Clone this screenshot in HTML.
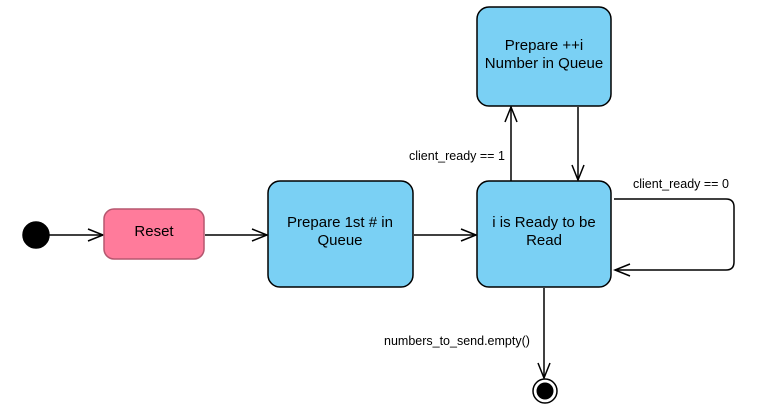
<!DOCTYPE html>
<html><head><style>body{margin:0;background:#fff}</style></head><body>
<svg width="759" height="413" xmlns="http://www.w3.org/2000/svg" font-family="Liberation Sans, Arial, sans-serif">
<g stroke="#000" stroke-width="1.5" fill="none">
<circle cx="36" cy="235" r="13" fill="#000"/>
<line x1="49" y1="235" x2="103" y2="235"/><polyline points="88,229 103,235 88,241"/>
<line x1="205" y1="235" x2="267" y2="235"/><polyline points="252,229 267,235 252,241"/>
<line x1="414" y1="235" x2="476" y2="235"/><polyline points="461,229 476,235 461,241"/>
<line x1="511" y1="181" x2="511" y2="107"/><polyline points="505,122 511,107 517,122"/>
<line x1="578" y1="107" x2="578" y2="180"/><polyline points="572,165 578,180 584,165"/>
<line x1="544" y1="288" x2="544" y2="378"/><polyline points="538,363 544,378 550,363"/>
<path d="M614,199 H726 Q734,199 734,207 V262 Q734,270 726,270 H615"/><polyline points="630,264 615,270 630,276"/>
</g>
<rect x="104" y="209" width="100" height="50" rx="10" fill="#ff7b9b" stroke="#b5576f" stroke-width="1.5"/>
<rect x="268" y="181" width="145" height="106" rx="12" fill="#7ad0f4" stroke="#000" stroke-width="1.5"/>
<rect x="477" y="181" width="134" height="106" rx="12" fill="#7ad0f4" stroke="#000" stroke-width="1.5"/>
<rect x="477" y="7" width="134" height="99" rx="12" fill="#7ad0f4" stroke="#000" stroke-width="1.5"/>
<circle cx="545" cy="391" r="12" fill="#fff" stroke="#000" stroke-width="1.5"/>
<circle cx="545" cy="391" r="8.5" fill="#000"/>
<g font-size="15" text-anchor="middle" fill="#000">
<text x="154" y="236">Reset</text>
<text x="340" y="227">Prepare 1st # in</text><text x="340" y="245">Queue</text>
<text x="544" y="227">i is Ready to be</text><text x="544" y="245">Read</text>
<text x="544" y="50">Prepare ++i</text><text x="544" y="68">Number in Queue</text>
</g>
<g font-size="12.5" fill="#000">
<text x="409" y="160">client_ready == 1</text>
<text x="633" y="188">client_ready == 0</text>
<text x="384" y="345">numbers_to_send.empty()</text>
</g>
</svg>
</body></html>
